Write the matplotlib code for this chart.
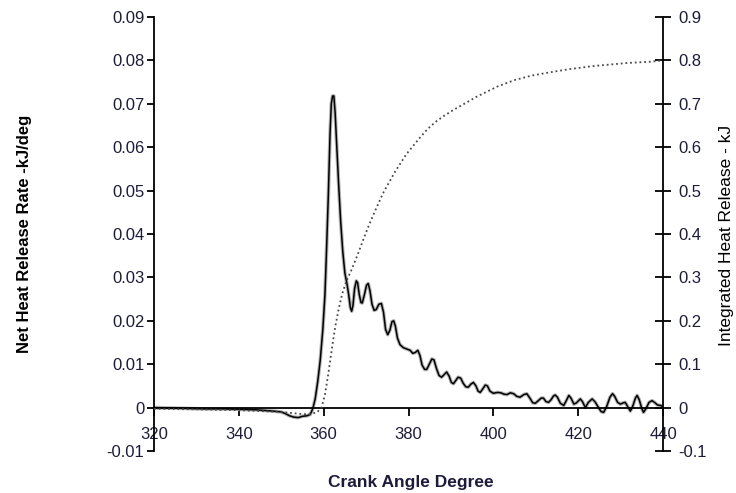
import matplotlib
matplotlib.use('Agg')
import matplotlib.pyplot as plt

plt.rcParams['font.family'] = ['Liberation Sans', 'DejaVu Sans']

# net heat release rate (kJ/deg) vs crank angle
rate_deg = [320, 324, 328, 332, 336, 340, 344, 348, 350, 351, 352, 353, 354, 355, 356, 356.8, 357.2,
            357.5, 358.0, 358.6, 359.2, 359.8, 360.3, 360.7, 361.1, 361.5, 361.8, 362.1, 362.4,
            362.7, 363.0, 363.5, 364.0, 364.5, 365.0, 365.5, 365.9, 366.3, 366.6, 366.9, 367.3,
            367.7, 368.0, 368.4, 368.8, 369.1, 369.6, 370.1, 370.5, 370.9, 371.4, 371.9, 372.4,
            373.0, 373.6, 374.1, 374.6, 375.1, 375.6, 376.1, 376.5, 376.9, 377.4, 378.0, 378.8,
            379.6, 380.4, 381.0, 381.6, 382.2, 382.7, 383.2, 383.8, 384.3, 384.9, 385.5, 386.0,
            386.6, 387.2, 387.8, 388.4, 389.0, 389.6, 390.1, 390.6, 391.1, 391.7, 392.3, 392.9,
            393.5, 394.1, 394.7, 395.3, 395.9, 396.4, 396.9, 397.5, 398.1, 398.6, 399.2, 400.0,
            401.0, 401.8, 402.5, 403.2, 404.0, 404.8, 405.5, 406.3, 407.2, 407.9, 408.6, 409.3,
            409.9, 410.6, 411.3, 411.8, 412.4, 413.0, 413.6, 414.2, 414.6, 415.1, 415.8, 416.6,
            417.2, 417.8, 418.3, 419.0, 419.6, 420.5, 421.0, 421.7, 422.4, 423.3, 424.0, 424.8,
            425.4, 426.0, 426.7, 427.5, 428.1, 428.6, 429.3, 430.0, 430.6, 431.1, 431.7, 432.3,
            432.9, 433.5, 433.9, 434.4, 435.0, 435.4, 436.0, 436.7, 437.4, 438.0, 438.7, 439.4, 440]
rate_val = [0.0, -0.0001, -0.0002, -0.0003, -0.0003, -0.0004, -0.0005, -0.0008, -0.001, -0.0014,
            -0.0019, -0.0022, -0.0023, -0.002, -0.0019, -0.0016, -0.0008,
            0.0, 0.002, 0.006, 0.011, 0.018, 0.026, 0.037, 0.049, 0.063, 0.070, 0.0718, 0.0718,
            0.068, 0.062, 0.052, 0.043, 0.036, 0.031, 0.0285, 0.026, 0.023, 0.0222, 0.0235, 0.0275,
            0.0292, 0.0288, 0.026, 0.0242, 0.0241, 0.026, 0.0282, 0.0286, 0.027, 0.0238, 0.0224, 0.0226,
            0.0238, 0.0240, 0.022, 0.018, 0.0168, 0.0178, 0.0198, 0.020, 0.0188, 0.016, 0.0145, 0.0138,
            0.0135, 0.0132, 0.0125, 0.0127, 0.0132, 0.012, 0.0098, 0.0088, 0.0088, 0.0100, 0.0112, 0.0110,
            0.0090, 0.0074, 0.0070, 0.0076, 0.0082, 0.0072, 0.0058, 0.0055, 0.0062, 0.0070, 0.0068, 0.0056,
            0.0048, 0.0047, 0.0054, 0.0058, 0.0050, 0.0038, 0.0035, 0.0043, 0.0052, 0.0050, 0.0038, 0.0033,
            0.0035, 0.0034, 0.0031, 0.0030, 0.0034, 0.0032, 0.0026, 0.0024, 0.0030, 0.0032, 0.0022, 0.0011,
            0.0010, 0.0016, 0.0022, 0.0022, 0.0014, 0.0012, 0.0018, 0.0027, 0.0029, 0.0024, 0.0010, 0.0005,
            0.0016, 0.0028, 0.0022, 0.0008, 0.0011, 0.0020, 0.0014, 0.0000, 0.0012, 0.0020, 0.0013, 0.0000,
            -0.0009, -0.0011, 0.0002, 0.0024, 0.0032, 0.0026, 0.0012, 0.0008, 0.0011, 0.0012, 0.0002, -0.0008,
            0.0004, 0.0022, 0.0028, 0.0018, -0.0002, -0.0011, -0.0002, 0.0012, 0.0016, 0.0012, 0.0006, 0.0005, 0.0002]

# integrated heat release (kJ)
cum_deg = [320, 330, 340, 350, 355, 357, 358.5, 359.5, 360.3, 361.1, 362.0, 362.7, 363.5,
           364.3, 365.3, 366.5, 368.0, 369.3, 370.5, 371.7, 374.0, 376.8, 379.5, 382.7, 384.5,
           386.6, 388.5, 390.6, 393.7, 396, 398.5, 401, 405.1, 409, 414.2, 418, 423.6, 427, 431.5,
           437, 440]
cum_val = [-0.003, -0.004, -0.006, -0.01, -0.015, -0.015, -0.01, 0.0, 0.03, 0.078, 0.14, 0.185,
           0.225, 0.26, 0.29, 0.316, 0.352, 0.386, 0.416, 0.444, 0.494, 0.543, 0.584, 0.622, 0.642,
           0.660, 0.673, 0.686, 0.703, 0.716, 0.728, 0.740, 0.755, 0.765, 0.774, 0.780, 0.787, 0.79,
           0.794, 0.797, 0.80]

x_ticks = [320, 340, 360, 380, 400, 420, 440]
left_ticks = [-0.01, 0, 0.01, 0.02, 0.03, 0.04, 0.05, 0.06, 0.07, 0.08, 0.09]
left_labels = ['-0.01', '0', '0.01', '0.02', '0.03', '0.04', '0.05', '0.06', '0.07', '0.08', '0.09']
right_ticks = [-0.1, 0, 0.1, 0.2, 0.3, 0.4, 0.5, 0.6, 0.7, 0.8, 0.9]
right_labels = ['-0.1', '0', '0.1', '0.2', '0.3', '0.4', '0.5', '0.6', '0.7', '0.8', '0.9']

txt = '#1c1c3a'
fig = plt.figure(figsize=(7.36, 4.93), dpi=100)
ax = fig.add_axes([154 / 736, 1 - 451 / 493, (663 - 154) / 736, (451 - 17) / 493])
ax2 = ax.twinx()

ax.plot(rate_deg, rate_val, color='#b4b4b4', lw=2.6, solid_joinstyle='round')
ax.plot(rate_deg, rate_val, color='black', lw=1.1, solid_joinstyle='round')
ax2.plot(cum_deg, cum_val, color='#4a4a4a', lw=1.3, linestyle=(0, (1, 1.6)))

ax.set_xlim(320, 440)
ax.set_ylim(-0.01, 0.09)
ax2.set_ylim(-0.1, 0.9)

ax.set_xticks(x_ticks)
ax.set_yticks(left_ticks)
ax.set_yticklabels(left_labels)
ax2.set_yticks(right_ticks)
ax2.set_yticklabels(right_labels)

for a in (ax, ax2):
    a.patch.set_visible(False)
    a.spines['top'].set_visible(False)
ax.spines['right'].set_visible(False)
ax2.spines['left'].set_visible(False)
ax2.spines['bottom'].set_visible(False)
ax.spines['bottom'].set_position(('data', 0))
for s in ('left', 'bottom'):
    ax.spines[s].set_linewidth(1.3)
ax2.spines['right'].set_linewidth(1.3)

ax.tick_params(axis='x', direction='out', length=6, width=1.3, pad=8,
               labelsize=12, labelcolor=txt)
ax.tick_params(axis='y', direction='out', length=5, width=1.3, pad=2,
               labelsize=12, labelcolor=txt)
ax2.tick_params(axis='y', direction='inout', length=12, width=1.3, pad=5,
                labelsize=12, labelcolor=txt)

fig.text(25 / 736, 1 - 234 / 493, 'Net Heat Release Rate -kJ/deg', rotation=90,
         ha='center', va='center', fontsize=12, fontweight='bold', color='black')
fig.text(727 / 736, 1 - 235 / 493, 'Integrated Heat Release - kJ', rotation=90,
         ha='center', va='center', fontsize=12.5, color='black')
fig.text(411 / 736, 1 - 482 / 493, 'Crank Angle Degree',
         ha='center', va='center', fontsize=12.5, fontweight='bold', color=txt)

fig.savefig('out.png', dpi=100)
